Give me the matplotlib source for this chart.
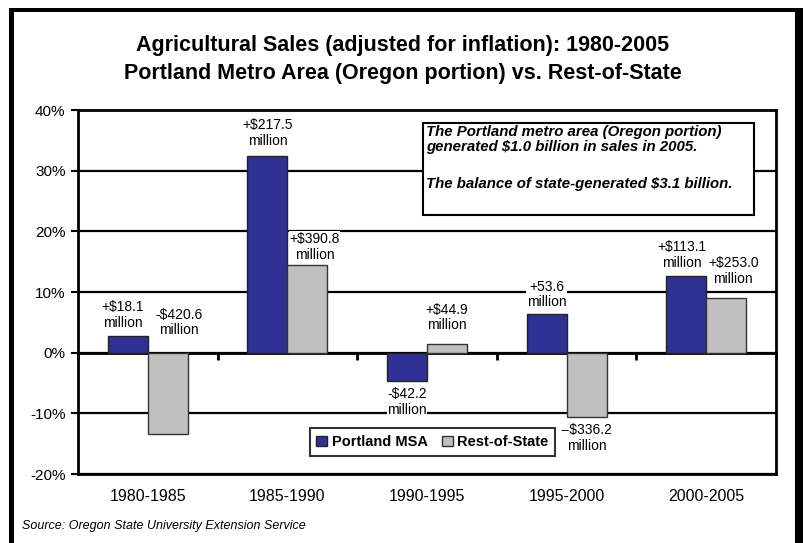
import matplotlib
matplotlib.use("Agg")
import matplotlib.pyplot as plt
import numpy as np
from matplotlib.patches import Rectangle

plt.rcParams['font.family'] = ['Liberation Sans', 'DejaVu Sans']

categories = ["1980-1985", "1985-1990", "1990-1995", "1995-2000", "2000-2005"]
portland = [2.8, 32.4, -4.7, 6.3, 12.6]
rest_of_state = [-13.4, 14.5, 1.5, -10.6, 9.0]
portland_labels = ["+$18.1\nmillion", "+$217.5\nmillion", "-$42.2\nmillion",
                   "+53.6\nmillion", "+$113.1\nmillion"]
rest_labels = ["-$420.6\nmillion", "+$390.8\nmillion", "+$44.9\nmillion",
               "--$336.2\nmillion", "+$253.0\nmillion"]
yticks = [-20, -10, 0, 10, 20, 30, 40]
series_names = ["Portland MSA", "Rest-of-State"]
note_para1 = "The Portland metro area (Oregon portion)\ngenerated $1.0 billion in sales in 2005."
note_para2 = "The balance of state-generated $3.1 billion."

W, H = 804, 543
fig = plt.figure(figsize=(W / 100, H / 100), dpi=100)

def fx(px):
    return px / W

def fy(py):
    return 1 - py / H

# outer frame
fig.patches.append(Rectangle((fx(9), 0), fx(5), fy(8), transform=fig.transFigure,
                             fc='black', ec='none'))
fig.patches.append(Rectangle((fx(9), fy(12)), fx(795 - 9), 4 / H, transform=fig.transFigure,
                             fc='black', ec='none'))
fig.patches.append(Rectangle((fx(795), 0), fx(9), fy(8), transform=fig.transFigure,
                             fc='black', ec='none'))

ax = fig.add_axes([fx(78), 1 - 474 / H, fx(776 - 78), (474 - 110) / H])

x = np.arange(len(categories))
bw = 0.287
ax.bar(x - bw / 2, portland, bw, color='#2E3192', edgecolor='#222222', linewidth=1.0,
       label=series_names[0], zorder=3)
ax.bar(x + bw / 2, rest_of_state, bw, color='#C0C0C0', edgecolor='#333333', linewidth=1.0,
       label=series_names[1], zorder=3)

ax.set_xlim(-0.5, len(categories) - 0.5)
ax.set_ylim(-20, 40)
ax.set_yticks(yticks)
ax.set_yticklabels([f"{v}%" for v in yticks], fontsize=11)
ax.yaxis.grid(True, color='black', linewidth=1.6, zorder=1)
ax.set_axisbelow(True)
ax.tick_params(axis='y', direction='out', length=5, width=1.5, pad=4)
ax.set_xticks(x)
ax.set_xticklabels(categories, fontsize=11.5)
ax.tick_params(axis='x', length=0, pad=11)
for s in ax.spines.values():
    s.set_linewidth(2.0)
    s.set_color('black')

# category axis at zero
sec = ax.secondary_xaxis(1 / 3)
sec.set_xticks(np.arange(len(categories) + 1) - 0.5)
sec.set_xticklabels([])
sec.tick_params(direction='out', length=5, width=2)
sec.spines['bottom'].set_linewidth(2.0)

# value labels (offsets in pixels relative to bar ends)
p_off = [(-5, 21, 'end'), (0, 23, 'end'), (0, -21, 'end'), (0, 20, 'end'), (-4, 21, 'end')]
r_off = [(11, 30, 'zero'), (7, 18, 'end'), (0, 26, 'end'), (0, -21, 'end'), (7, 27, 'end')]

def put_labels(xs, vals, labels, offs):
    for xi, v, lab, (dx, dy, mode) in zip(xs, vals, labels, offs):
        yv = 0 if mode == 'zero' else v
        ax.annotate(lab, xy=(xi, yv), xytext=(dx, dy), textcoords='offset pixels',
                    ha='center', va='center', fontsize=10, linespacing=1.15,
                    bbox=dict(fc='white', ec='none', pad=0.3), zorder=5)

put_labels(x - bw / 2, portland, portland_labels, p_off)
put_labels(x + bw / 2, rest_of_state, rest_labels, r_off)

# note box
fig.patches.append(Rectangle((fx(423), fy(215)), fx(754 - 423), (215 - 123) / H,
                             transform=fig.transFigure, fc='white', ec='black', lw=1.5, zorder=6))
fig.text(fx(426), fy(139.5), note_para1, ha='left', va='center', fontsize=10.8, fontweight='bold',
         fontstyle='italic', linespacing=1.12, zorder=7)
fig.text(fx(426), fy(184), note_para2, ha='left', va='center', fontsize=10.8, fontweight='bold',
         fontstyle='italic', zorder=7)

leg = ax.legend(loc='center', bbox_to_anchor=(fx(432.5), fy(442)), bbox_transform=fig.transFigure,
                ncol=2, prop={'weight': 'bold', 'size': 10.5}, frameon=True, fancybox=False,
                edgecolor='black', handlelength=0.75, handleheight=0.75, handletextpad=0.3,
                columnspacing=1.0, borderpad=0.45)
leg.get_frame().set_linewidth(1.5)
leg.set_zorder(8)

fig.text(fx(403), fy(46), "Agricultural Sales (adjusted for inflation): 1980-2005",
         ha='center', va='center', fontsize=15.5, fontweight='bold')
fig.text(fx(403), fy(74), "Portland Metro Area (Oregon portion) vs. Rest-of-State",
         ha='center', va='center', fontsize=15.5, fontweight='bold')
fig.text(fx(22), fy(526), "Source: Oregon State University Extension Service",
         ha='left', va='center', fontsize=9, fontstyle='italic')

fig.savefig("out.png", dpi=100)
